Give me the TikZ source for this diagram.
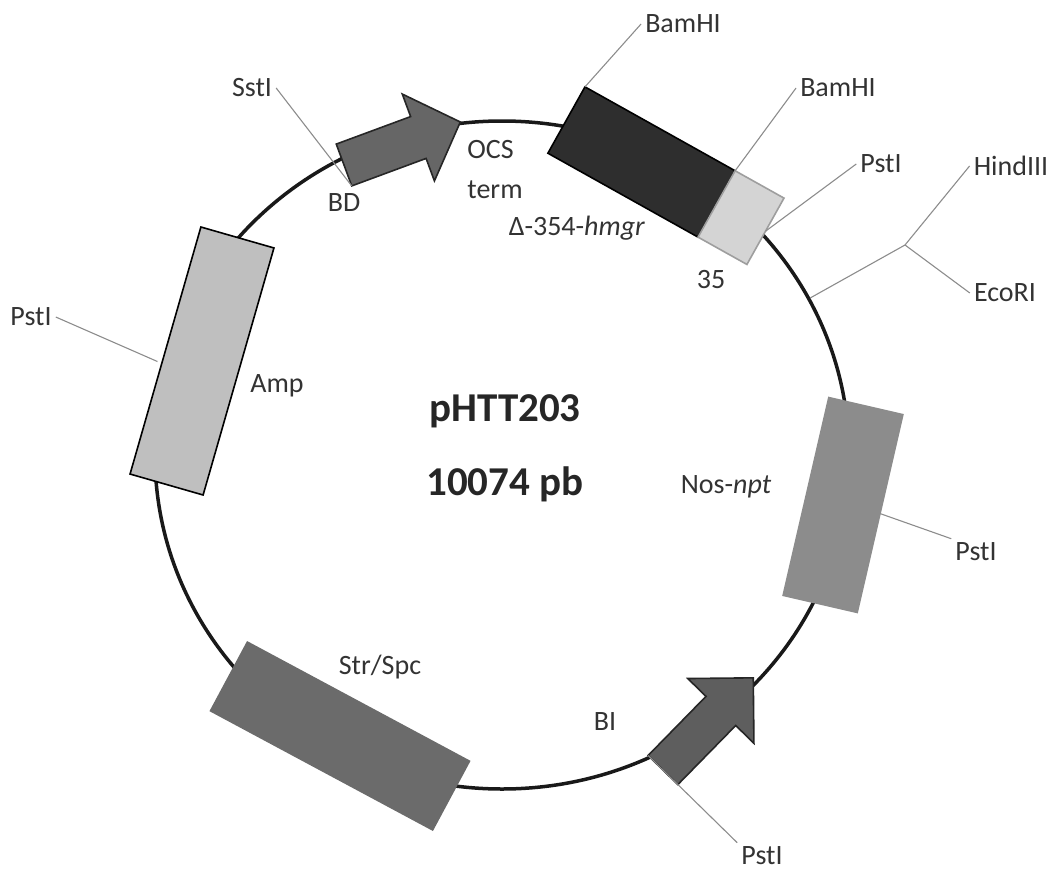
\documentclass[tikz,border=0pt]{standalone}
\usepackage{fontspec}
\setmainfont{Carlito}
\usetikzlibrary{shapes.geometric,shapes.arrows}

\begin{document}
\begin{tikzpicture}[
    x=1pt,
    y=-1pt,
    font=\fontsize{28}{40}\selectfont,
    text=black!80,
    plasmid/.style={draw=black!90, ellipse, line width=3.5pt, minimum width=694pt, minimum height=668pt},
    gene/.style={draw, line width=1.6pt, inner sep=0pt, outer sep=0pt},
    marker/.style={draw=black!85, line width=1.6pt, single arrow, inner xsep=0pt, outer sep=0pt, anchor=tail, single arrow tip angle=92},
    leader/.style={draw=black!45, line width=1.1pt},
    label/.style={inner sep=4pt},
    title/.style={font=\fontsize{41}{74}\selectfont\bfseries, align=center, text=black!85}
]
\useasboundingbox (0,0) rectangle (1057,870);

\node[plasmid] (ring) at (502,455) {};

\node[gene, fill=black!25, minimum width=257pt, minimum height=76pt, rotate=74] (amp) at (202,361) {};
\node[gene, fill=black!82, minimum width=172pt, minimum height=76pt, rotate=-29.2] (hmgr) at (641.5,162) {};
\node[gene, draw=black!38, fill=black!17, minimum width=56pt, minimum height=76pt, rotate=-29.2, anchor=west] (ptt) at (hmgr.east) {};
\node[gene, draw=black!45, fill=black!45, minimum width=203pt, minimum height=76pt, rotate=77] (npt) at (843,505) {};
\node[gene, draw=black!58, fill=black!58, minimum width=252pt, minimum height=78pt, rotate=-28.2] (str) at (340,736) {};

\node[marker, fill=black!60, inner ysep=21.5pt, minimum height=124pt, single arrow head extend=24pt, rotate=20.3] (bd) at (344,165) {};
\node[marker, fill=black!63, inner ysep=20pt, minimum height=129pt, single arrow head extend=25.5pt, single arrow tip angle=90, rotate=45.6] (bi) at (663,770) {};

\node[title] (name) at (505,448) {pHTT203\\10074 pb};

\node[label] (sst) at (252,88) {SstI};
\node[label] (bam1) at (683,24) {BamHI};
\node[label] (bam2) at (838,88) {BamHI};
\node[label] (pst1) at (881,164) {PstI};
\node[label] (hind) at (1011,166) {HindIII};
\node[label] (eco) at (1005,293) {EcoRI};
\node[label] (pst2) at (31,317) {PstI};
\node[label] (pst3) at (976,552) {PstI};
\node[label] (pst4) at (762,856) {PstI};

\node[label, align=left] (ocs) at (495,170) {OCS\\term};
\node[label] (bdname) at (344,203) {BD};
\node[label] (hmgrname) at (577,228) {Δ-354-\textit{hmgr}};
\node[label] (pttname) at (711,280) {35};
\node[label] (ampname) at (277,386) {Amp};
\node[label] (nptname) at (726,487) {Nos-\textit{npt}};
\node[label] (biname) at (605,722) {BI};
\node[label] (strname) at (380,667) {Str/Spc};

\coordinate (branch) at (905,245);

\draw[leader] (sst.east) -- (bd.before tail);
\draw[leader] (bam1.west) -- (hmgr.north west);
\draw[leader] (bam2.west) -- (hmgr.north east);
\draw[leader] (pst1.west) -- (ptt.east);
\draw[leader] (ring.27) -- (branch);
\draw[leader] (branch) -- (hind.west);
\draw[leader] (branch) -- (eco.west);
\draw[leader] (pst2.east) -- ([shift={(-8,11)}]amp.north);
\draw[leader] (npt.south) -- (pst3.north west);
\draw[leader] (bi.after tail) -- (pst4.north west);
\end{tikzpicture}
\end{document}
